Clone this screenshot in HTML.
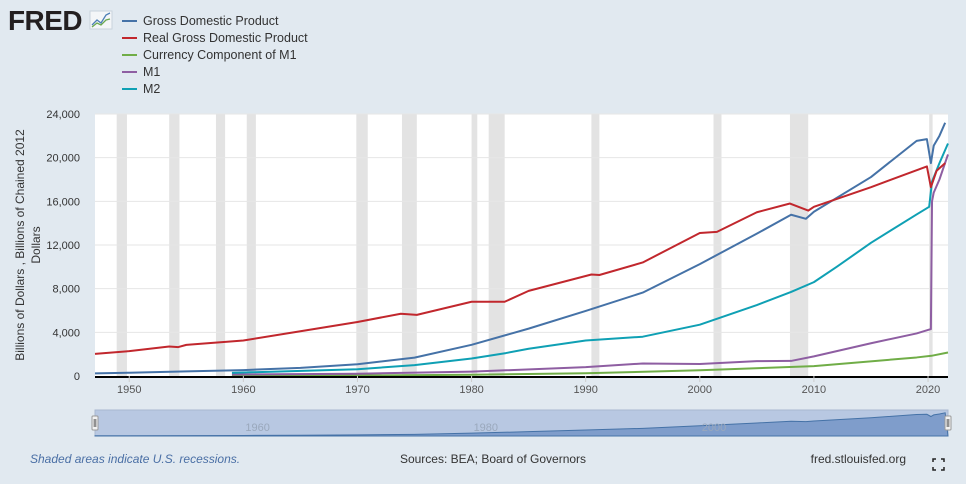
<!DOCTYPE html>
<html><head><meta charset="utf-8"><style>
body{margin:0;background:#e1e9f0;font-family:"Liberation Sans",sans-serif;}
svg{display:block}
</style></head><body>
<svg width="966" height="484" id="c" xmlns="http://www.w3.org/2000/svg">
<rect width="966" height="484" fill="#e1e9f0"/>
<g>
<text x="8" y="30" font-size="28" font-weight="bold" fill="#231f20" font-family="Liberation Sans" letter-spacing="-0.5" textLength="74" lengthAdjust="spacingAndGlyphs">FRED</text>
<rect x="90" y="11" width="22" height="18" fill="#f4f6f8" stroke="#c9d3dd"/>
<polyline points="92,25 97,20 101,23 106,15 110,13" fill="none" stroke="#4d7fb6" stroke-width="1.3"/>
<polyline points="92,27 97,23 101,25 106,20 110,19" fill="none" stroke="#6aa84f" stroke-width="1.3"/>
</g>
<g id="legend" font-size="13" fill="#333"></g>
<rect x="95" y="114" width="853" height="262" fill="#fff"/>
<g id="rec"></g><g id="grid"></g><g id="series"></g><g id="axes"></g>
<text transform="translate(24,245) rotate(-90)" text-anchor="middle" font-size="12" fill="#333"><tspan x="0" dy="0">Billions of Dollars , Billions of Chained 2012</tspan><tspan x="0" dy="16">Dollars</tspan></text>
<g id="nav"></g>
<text x="30" y="463" font-size="12" font-style="italic" fill="#4a6fa5">Shaded areas indicate U.S. recessions.</text>
<text x="493" y="463" font-size="12" text-anchor="middle" fill="#333">Sources: BEA; Board of Governors</text>
<text x="906" y="463" font-size="12" text-anchor="end" fill="#333">fred.stlouisfed.org</text>
<g stroke="#222" stroke-width="1.5" fill="none"><path d="M933,462v-3h3M941,459h3v3M944,467v3h-3M936,470h-3v-3"/></g>
</svg>
<script>
const seriesNames=["Gross Domestic Product","Real Gross Domestic Product","Currency Component of M1","M1","M2"];
const seriesColors=["#4572a7","#c1272d","#70ad47","#8e5ea2","#0fa0b4"];
const gdpX=[1947,1950,1955,1960,1965,1970,1975,1980,1985,1990,1995,2000,2005,2008,2009.3,2010,2015,2019,2019.9,2020.25,2020.5,2021,2021.5];
const gdpY=[244,300,426,542,743,1073,1685,2857,4339,5963,7640,10251,13039,14770,14400,15049,18225,21540,21700,19500,21100,22000,23200];
const rgdpX=[1947,1950,1953.5,1954.3,1955,1960,1965,1970,1973.8,1975.2,1980,1982.9,1985,1990.5,1991.2,1995,2000,2001.5,2005,2007.9,2009.5,2010,2015,2019.9,2020.25,2020.75,2021.5];
const rgdpY=[2030,2280,2700,2650,2850,3250,4100,4950,5700,5600,6800,6800,7800,9300,9250,10400,13100,13200,15000,15800,15150,15500,17300,19200,17300,18800,19500];
const curX=[1959,1970,1980,1990,2000,2010,2019,2020.3,2021.75];
const curY=[28,49,115,247,530,900,1700,1850,2150];
const m1X=[1959,1970,1980,1990,1995,2000,2005,2008,2010,2015,2019,2020.25,2020.35,2020.5,2021,2021.75];
const m1Y=[140,210,400,810,1150,1100,1360,1380,1800,3000,3900,4300,16000,16800,18000,20300];
const m2X=[1959,1970,1975,1980,1983,1985,1990,1995,2000,2005,2008,2010,2012,2015,2019,2020.1,2020.35,2021,2021.75];
const m2Y=[290,620,1000,1600,2100,2500,3250,3600,4700,6500,7700,8600,10000,12200,14800,15500,17800,19500,21300];
const recStart=[1948.9,1953.5,1957.6,1960.3,1969.9,1973.9,1980.0,1981.5,1990.5,2001.2,2007.9,2020.1];
const recEnd=[1949.8,1954.4,1958.4,1961.1,1970.9,1975.2,1980.5,1982.9,1991.2,2001.9,2009.5,2020.4];
const yTicks=[0,4000,8000,12000,16000,20000,24000];
const xTicks=[1950,1960,1970,1980,1990,2000,2010,2020];
const NS="http://www.w3.org/2000/svg";
const X0=1947,X1=2021.75,px0=95,px1=948,py0=376,py1=114;
const sx=v=>px0+(v-X0)/(X1-X0)*(px1-px0);
const sy=v=>py0-v/24000*(py0-py1);
function mk(tag,parent,attrs){const e=document.createElementNS(NS,tag);for(const k in attrs)e.setAttribute(k,attrs[k]);parent.appendChild(e);return e;}
const rec=document.getElementById('rec');
recStart.forEach((s,i)=>{const r=mk('rect',rec,{x:sx(s),y:py1,width:sx(recEnd[i])-sx(s),height:py0-py1,fill:'#e3e3e3'});

});
const grid=document.getElementById('grid'),axes=document.getElementById('axes');
yTicks.forEach(t=>{if(t>0){const l=mk('line',grid,{x1:px0,x2:px1,y1:sy(t),y2:sy(t),stroke:'#e6e6e6'});

}
const tx=mk('text',axes,{x:80,y:sy(t)+4,'text-anchor':'end','font-size':11,fill:'#333'});tx.textContent=t.toLocaleString('en-US');

});
const ax=mk('line',axes,{x1:px0,x2:px1,y1:py0+1,y2:py0+1,stroke:'#000','stroke-width':2});


xTicks.forEach(t=>{mk('line',axes,{x1:sx(t),x2:sx(t),y1:py0,y2:py0+6,stroke:'#ccc'});
const tx=mk('text',axes,{x:sx(t),y:py0+17,'text-anchor':'middle','font-size':11,fill:'#555'});tx.textContent=t;

});
const sdata=[[gdpX,gdpY],[rgdpX,rgdpY],[curX,curY],[m1X,m1Y],[m2X,m2Y]];
const sg=document.getElementById('series'),lg=document.getElementById('legend');
const order=[2,3,4,0,1];
order.forEach(i=>{const [xs,ys]=sdata[i];
const p=mk('polyline',sg,{points:xs.map((x,j)=>sx(x)+','+sy(ys[j])).join(' '),fill:'none',stroke:seriesColors[i],'stroke-width':2,'stroke-linejoin':'round'});

});
seriesNames.forEach((n,i)=>{const g=mk('g',lg,{});


mk('line',g,{x1:122,x2:137,y1:21+i*17,y2:21+i*17,stroke:seriesColors[i],'stroke-width':2});
const t=mk('text',g,{x:143,y:25+i*17,'font-size':12.5,fill:'#333'});t.textContent=n;});
const nav=document.getElementById('nav');
const ny0=436,ny1=410;
mk('rect',nav,{x:px0,y:ny1,width:px1-px0,height:ny0-ny1,fill:'#b8c8e2',stroke:'#a9b8d0'});
const nsy=v=>ny0-v/24000*(ny0-ny1-2);
const pts=gdpX.map((x,j)=>sx(x)+','+nsy(gdpY[j])).join(' ');
const a=mk('polygon',nav,{points:sx(X0)+','+ny0+' '+pts+' '+sx(X1)+','+ny0,fill:'#7f9dcb',stroke:'#4572a7','stroke-width':1});


[1960,1980,2000].forEach(t=>{const tx=mk('text',nav,{x:sx(t)+2,y:431,'font-size':11,fill:'#9aa8bc'});tx.textContent=t;});
[px0,px1].forEach((x,i)=>{const h=mk('rect',nav,{x:x-3,y:416,width:6,height:14,fill:'#f2f2f2',stroke:'#999',rx:1});


mk('line',nav,{x1:x-0.8,x2:x-0.8,y1:419,y2:427,stroke:'#666'});mk('line',nav,{x1:x+0.8,x2:x+0.8,y1:419,y2:427,stroke:'#666'});});
</script>
</body></html>
